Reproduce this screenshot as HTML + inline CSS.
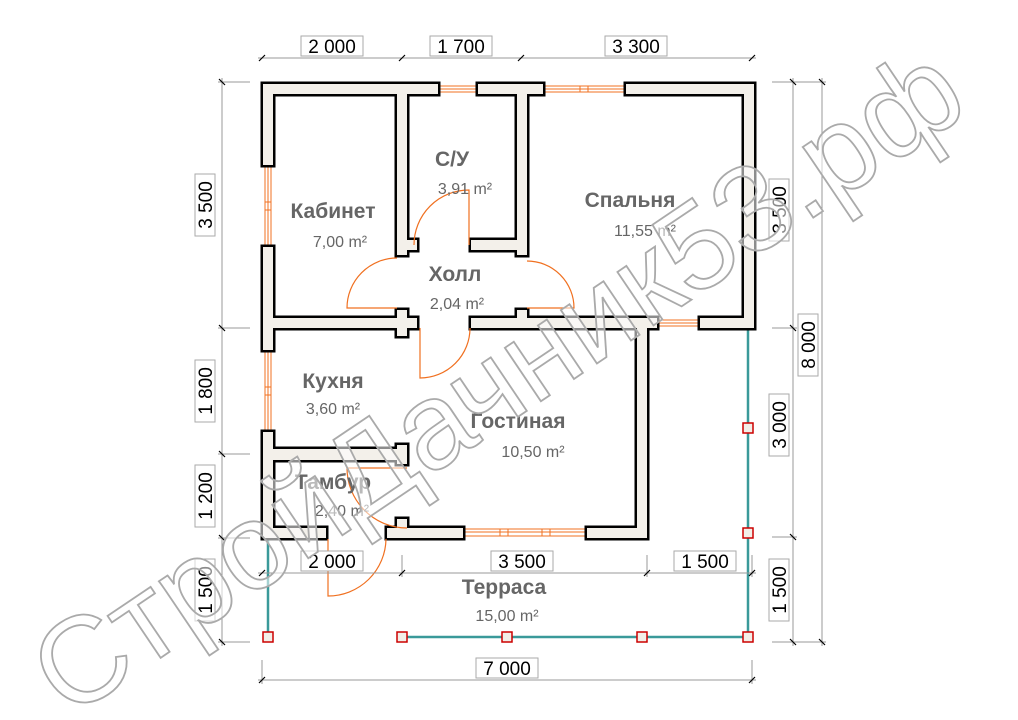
<!DOCTYPE html>
<html><head><meta charset="utf-8"><style>
html,body{margin:0;padding:0;background:#fff;}
svg{display:block;}
.rl{font-family:"Liberation Sans",sans-serif;font-weight:bold;font-size:21px;fill:#666;text-anchor:middle;}
.ar{font-family:"Liberation Sans",sans-serif;font-size:16px;fill:#666;text-anchor:middle;}
.dm{font-family:"Liberation Sans",sans-serif;font-size:19px;fill:#000;text-anchor:middle;}
.db{fill:#fff;stroke:#aaa;stroke-width:1;}
.dl{stroke:#999;stroke-width:1;fill:none;}
.tk{stroke:#000;stroke-width:1.2;}
.win{fill:none;stroke:#f07020;stroke-width:1;}
.door{fill:none;stroke:#f07020;stroke-width:1.2;}
.post{fill:#f2efe8;stroke:#c00;stroke-width:1.5;}
</style></head><body>
<svg width="1018" height="720" viewBox="0 0 1018 720" xmlns="http://www.w3.org/2000/svg">
<rect width="1018" height="720" fill="#fff"/>

<g stroke="#3a9a9a" stroke-width="2.5" fill="none">
<line x1="268" y1="539" x2="268" y2="637"/>
<line x1="402" y1="637" x2="748" y2="637"/>
<line x1="748" y1="328" x2="748" y2="637"/>
</g>

<g class="win">
<rect x="438" y="86" width="40" height="6"/><line x1="438" y1="89" x2="478" y2="89"/>
<rect x="543" y="86" width="83" height="6"/><line x1="543" y1="89" x2="626" y2="89"/><rect x="580" y="86" width="8" height="6"/>
<rect x="657" y="320" width="43" height="6"/><line x1="657" y1="323" x2="700" y2="323"/>
<rect x="265" y="165" width="6" height="82"/><line x1="268" y1="165" x2="268" y2="247"/><rect x="265" y="202" width="6" height="8"/>
<rect x="265" y="350" width="6" height="82"/><line x1="268" y1="350" x2="268" y2="432"/><rect x="265" y="387" width="6" height="8"/>
<rect x="463" y="529" width="124" height="7"/><line x1="463" y1="532" x2="587" y2="532"/><rect x="500" y="529" width="8" height="7"/><rect x="542" y="529" width="8" height="7"/>
</g>

<g fill="#000" stroke="#000" stroke-width="5" stroke-linejoin="miter">
<rect x="263" y="84" width="175" height="10"/><rect x="478" y="84" width="65" height="10"/><rect x="626" y="84" width="128" height="10"/>
<rect x="744" y="84" width="10" height="244"/><rect x="700" y="318" width="54" height="10"/>
<rect x="263" y="84" width="10" height="81"/><rect x="263" y="247" width="10" height="103"/><rect x="263" y="432" width="10" height="106"/>
<rect x="397" y="94" width="10" height="161"/><rect x="397" y="240" width="20" height="10"/>
<rect x="517" y="94" width="10" height="161"/><rect x="471" y="240" width="46" height="10"/>
<rect x="263" y="318" width="154" height="10"/><rect x="397" y="310" width="10" height="26"/>
<rect x="471" y="318" width="186" height="10"/><rect x="517" y="310" width="10" height="10"/>
<rect x="637" y="318" width="10" height="220"/>
<rect x="263" y="528" width="63" height="10"/><rect x="387" y="528" width="76" height="10"/><rect x="587" y="528" width="60" height="10"/><rect x="397" y="519" width="10" height="10"/>
<rect x="263" y="449" width="144" height="11"/><rect x="397" y="445" width="10" height="19"/>
</g>
<g fill="#f3f0ea">
<rect x="263" y="84" width="175" height="10"/><rect x="478" y="84" width="65" height="10"/><rect x="626" y="84" width="128" height="10"/>
<rect x="744" y="84" width="10" height="244"/><rect x="700" y="318" width="54" height="10"/>
<rect x="263" y="84" width="10" height="81"/><rect x="263" y="247" width="10" height="103"/><rect x="263" y="432" width="10" height="106"/>
<rect x="397" y="94" width="10" height="161"/><rect x="397" y="240" width="20" height="10"/>
<rect x="517" y="94" width="10" height="161"/><rect x="471" y="240" width="46" height="10"/>
<rect x="263" y="318" width="154" height="10"/><rect x="397" y="310" width="10" height="26"/>
<rect x="471" y="318" width="186" height="10"/><rect x="517" y="310" width="10" height="10"/>
<rect x="637" y="318" width="10" height="220"/>
<rect x="263" y="528" width="63" height="10"/><rect x="387" y="528" width="76" height="10"/><rect x="587" y="528" width="60" height="10"/><rect x="397" y="519" width="10" height="10"/>
<rect x="263" y="449" width="144" height="11"/><rect x="397" y="445" width="10" height="19"/>
</g>

<g class="door">
<path d="M397 308 L347 308 A50 50 0 0 1 397 258"/>
<path d="M469 245 L469 190 A55 55 0 0 0 414 245"/>
<path d="M527 308 L574 308 A47 47 0 0 0 527 261"/>
<path d="M420 328 L420 378 A50 50 0 0 0 470 328"/>
<path d="M407 468 L347 468 A60 60 0 0 0 407 528"/>
<path d="M328 539 L328 596 A58 58 0 0 0 386 539"/>
</g>

<g class="post">
<rect x="263" y="632" width="10" height="10"/><rect x="397" y="632" width="10" height="10"/>
<rect x="502" y="632" width="10" height="10"/><rect x="637" y="632" width="10" height="10"/>
<rect x="743" y="632" width="10" height="10"/><rect x="743" y="423" width="10" height="10"/>
<rect x="743" y="528" width="10" height="10"/>
</g>

<g class="dl">
<line x1="258" y1="58" x2="756" y2="58"/>
<line x1="258" y1="573" x2="756" y2="573"/>
<line x1="258" y1="680" x2="756" y2="680"/>
<line x1="262" y1="660" x2="262" y2="684"/><line x1="752" y1="660" x2="752" y2="684"/>
<line x1="402" y1="555" x2="402" y2="577"/><line x1="647" y1="555" x2="647" y2="577"/><line x1="752" y1="555" x2="752" y2="577"/>
<line x1="222" y1="78" x2="222" y2="646"/>
<line x1="218" y1="82" x2="250" y2="82"/><line x1="218" y1="328" x2="250" y2="328"/><line x1="218" y1="454" x2="250" y2="454"/><line x1="218" y1="538" x2="250" y2="538"/><line x1="218" y1="642" x2="250" y2="642"/>
<line x1="793" y1="78" x2="793" y2="646"/>
<line x1="822" y1="78" x2="822" y2="646"/>
<line x1="772" y1="82" x2="826" y2="82"/><line x1="772" y1="328" x2="797" y2="328"/><line x1="772" y1="537" x2="797" y2="537"/><line x1="772" y1="642" x2="826" y2="642"/>
</g>
<g class="tk">
<line x1="259" y1="61" x2="265" y2="55"/><line x1="399" y1="61" x2="405" y2="55"/><line x1="518" y1="61" x2="524" y2="55"/><line x1="749" y1="61" x2="755" y2="55"/>
<line x1="259" y1="576" x2="265" y2="570"/><line x1="399" y1="576" x2="405" y2="570"/><line x1="644" y1="576" x2="650" y2="570"/><line x1="749" y1="576" x2="755" y2="570"/>
<line x1="259" y1="683" x2="265" y2="677"/><line x1="749" y1="683" x2="755" y2="677"/>
<line x1="219" y1="79" x2="225" y2="85"/><line x1="219" y1="325" x2="225" y2="331"/><line x1="219" y1="451" x2="225" y2="457"/><line x1="219" y1="535" x2="225" y2="541"/><line x1="219" y1="639" x2="225" y2="645"/>
<line x1="790" y1="79" x2="796" y2="85"/><line x1="790" y1="325" x2="796" y2="331"/><line x1="790" y1="534" x2="796" y2="540"/><line x1="790" y1="639" x2="796" y2="645"/>
<line x1="819" y1="79" x2="825" y2="85"/><line x1="819" y1="639" x2="825" y2="645"/>
</g>

<rect class="db" x="301" y="36" width="62" height="20"/><text class="dm" x="332" y="53">2 000</text>
<rect class="db" x="430" y="36" width="62" height="20"/><text class="dm" x="461" y="53">1 700</text>
<rect class="db" x="605" y="36" width="62" height="20"/><text class="dm" x="636" y="53">3 300</text>
<rect class="db" x="301" y="551" width="62" height="20"/><text class="dm" x="332" y="568">2 000</text>
<rect class="db" x="491" y="551" width="62" height="20"/><text class="dm" x="522" y="568">3 500</text>
<rect class="db" x="674" y="551" width="62" height="20"/><text class="dm" x="705" y="568">1 500</text>
<rect class="db" x="476" y="658" width="62" height="20"/><text class="dm" x="507" y="675">7 000</text>

<g transform="translate(205,205) rotate(-90)"><rect class="db" x="-31" y="-10" width="62" height="20"/><text class="dm" x="0" y="7">3 500</text></g>
<g transform="translate(205,391) rotate(-90)"><rect class="db" x="-31" y="-10" width="62" height="20"/><text class="dm" x="0" y="7">1 800</text></g>
<g transform="translate(205,496) rotate(-90)"><rect class="db" x="-31" y="-10" width="62" height="20"/><text class="dm" x="0" y="7">1 200</text></g>
<g transform="translate(205,590) rotate(-90)"><rect class="db" x="-31" y="-10" width="62" height="20"/><text class="dm" x="0" y="7">1 500</text></g>
<g transform="translate(779,210) rotate(-90)"><rect class="db" x="-31" y="-10" width="62" height="20"/><text class="dm" x="0" y="7">3 500</text></g>
<g transform="translate(779,425) rotate(-90)"><rect class="db" x="-31" y="-10" width="62" height="20"/><text class="dm" x="0" y="7">3 000</text></g>
<g transform="translate(779,590) rotate(-90)"><rect class="db" x="-31" y="-10" width="62" height="20"/><text class="dm" x="0" y="7">1 500</text></g>
<g transform="translate(808,345) rotate(-90)"><rect class="db" x="-31" y="-10" width="62" height="20"/><text class="dm" x="0" y="7">8 000</text></g>

<text class="rl" x="333" y="218">Кабинет</text><text class="ar" x="340" y="247">7,00 m²</text>
<text class="rl" x="452" y="166">С/У</text><text class="ar" x="465" y="194">3,91 m²</text>
<text class="rl" x="630" y="207">Спальня</text><text class="ar" x="645" y="236">11,55 m²</text>
<text class="rl" x="455" y="281">Холл</text><text class="ar" x="457" y="309">2,04 m²</text>
<text class="rl" x="333" y="388">Кухня</text><text class="ar" x="333" y="414">3,60 m²</text>
<text class="rl" x="518" y="428">Гостиная</text><text class="ar" x="533" y="457">10,50 m²</text>
<text class="rl" x="333" y="489">Тамбур</text><text class="ar" x="342" y="516">2,40 m²</text>
<text class="rl" x="504" y="594">Терраса</text><text class="ar" x="507" y="621">15,00 m²</text>

<g transform="translate(498,382) rotate(-34)">
<text x="0" y="40" text-anchor="middle" textLength="1090" lengthAdjust="spacingAndGlyphs" font-family="Liberation Sans, sans-serif" font-size="122" fill="#fff" fill-opacity="0.55" stroke="#aaa" stroke-width="1.8">СтройДачник53.рф</text>
</g>
</svg>
</body></html>
